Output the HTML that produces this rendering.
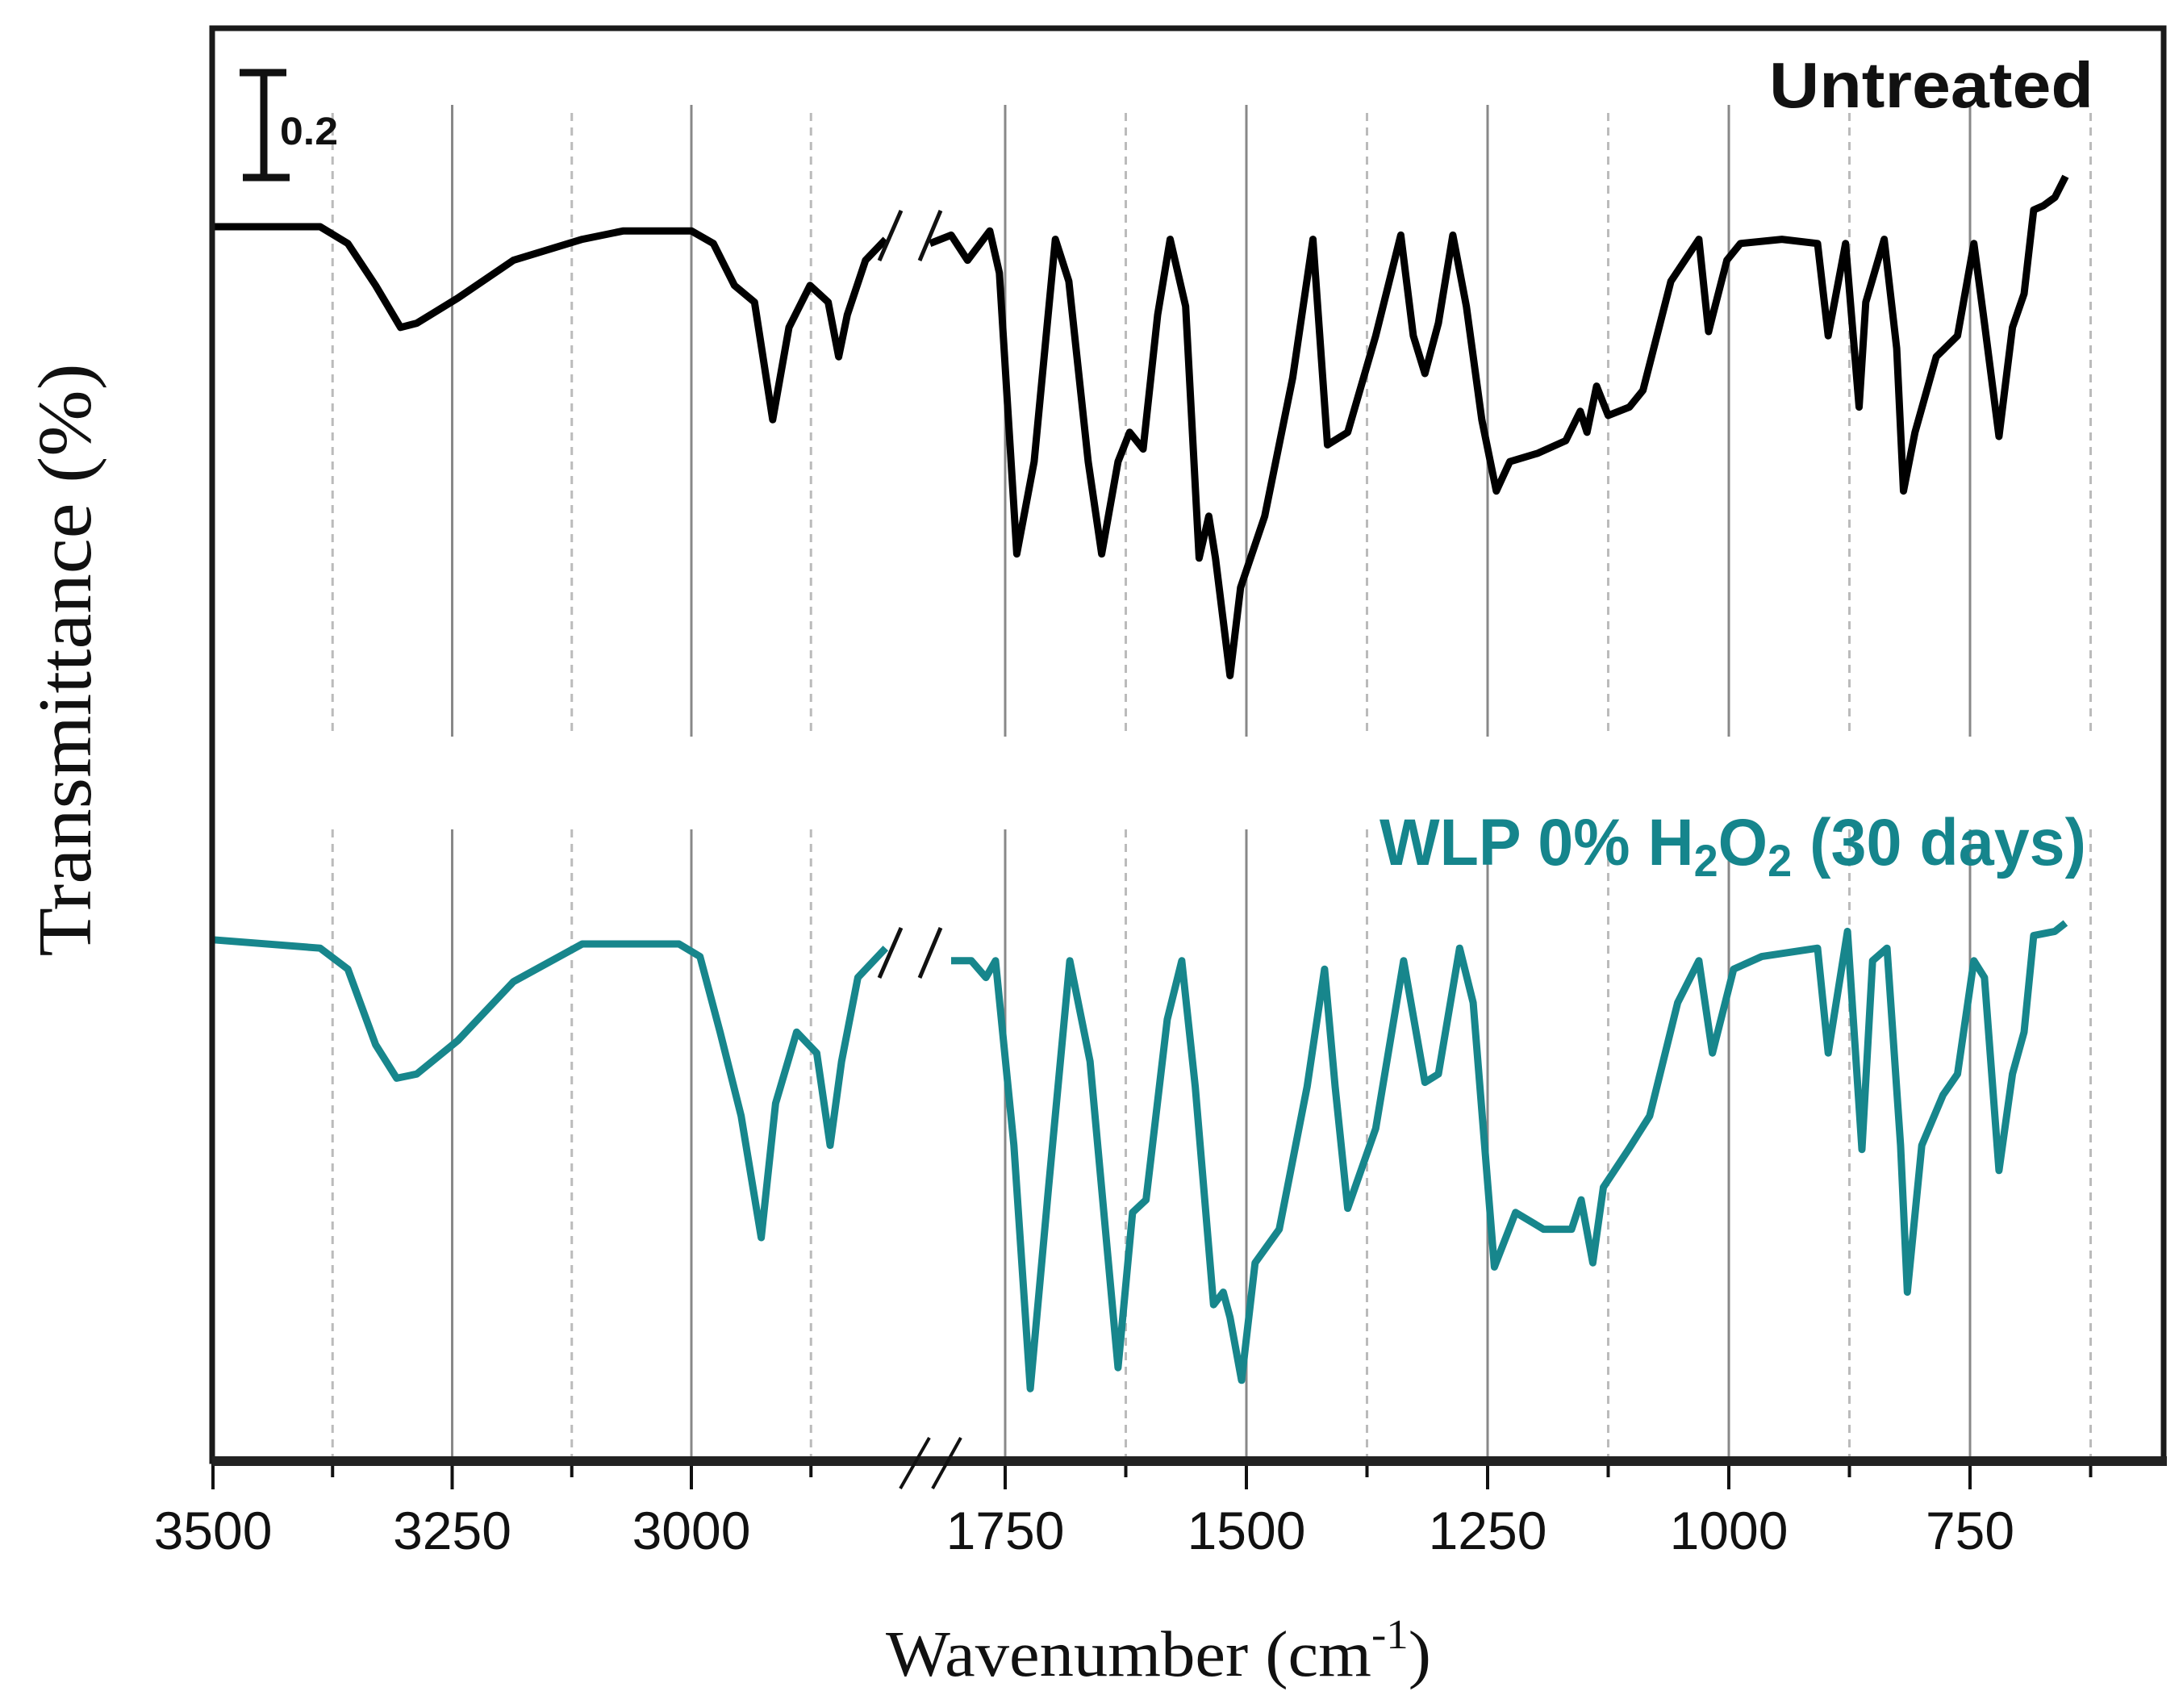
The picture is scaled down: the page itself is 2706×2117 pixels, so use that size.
<!DOCTYPE html>
<html><head><meta charset="utf-8">
<style>
html,body{margin:0;padding:0;background:#fff;}
svg{display:block;}
</style></head>
<body>
<svg id="chart" width="2706" height="2117" viewBox="0 0 2706 2117" xmlns="http://www.w3.org/2000/svg">
<rect x="0" y="0" width="2706" height="2117" fill="#fff"/>
<g id="grid"></g>
<g id="ticks"></g>
<g id="series"></g>
<rect x="263" y="35" width="2419" height="1776" fill="none" stroke="#1a1a1a" stroke-width="7"/>
<line x1="263" y1="1811" x2="2686" y2="1811" stroke="#222" stroke-width="12"/>
<g stroke="#111" stroke-width="4">
<line x1="1116" y1="1845" x2="1152" y2="1782"/><line x1="1156" y1="1845" x2="1191" y2="1782"/>
</g>
<g stroke="#111" stroke-width="9">
<line x1="327" y1="90" x2="327" y2="220"/><line x1="297" y1="90" x2="355" y2="90"/><line x1="301" y1="220" x2="359" y2="220"/>
</g>
<text x="347" y="179" font-family="Liberation Sans, sans-serif" font-size="48" font-weight="bold" fill="#111" textLength="72" lengthAdjust="spacingAndGlyphs">0.2</text>
<text x="2193" y="133" font-family="Liberation Sans, sans-serif" font-size="80" font-weight="bold" fill="#111" textLength="402" lengthAdjust="spacingAndGlyphs">Untreated</text>
<text x="1710" y="1072" font-family="Liberation Sans, sans-serif" font-size="82" font-weight="bold" fill="#15858c" textLength="876" lengthAdjust="spacingAndGlyphs">WLP 0% H<tspan font-size="56" dy="14">2</tspan><tspan dy="-14">O</tspan><tspan font-size="56" dy="14">2</tspan><tspan dy="-14"> (30 days)</tspan></text>
<text x="1098" y="2077" font-family="Liberation Serif, serif" font-size="80" fill="#111" textLength="676" lengthAdjust="spacingAndGlyphs">Wavenumber (cm<tspan font-size="52" dy="-34">-1</tspan><tspan dy="34">)</tspan></text>
<text transform="translate(112,818) rotate(-90)" text-anchor="middle" font-family="Liberation Serif, serif" font-size="94" fill="#111" textLength="735" lengthAdjust="spacingAndGlyphs">Transmittance (%)</text>
</svg>
<script>
// ---- data ----
const majorTicks = [3500, 3250, 3000, 1750, 1500, 1250, 1000, 750];
const minorTicks = [3375, 3125, 2875, 1625, 1375, 1125, 875, 625];
const tickLabels = ["3500", "3250", "3000", "1750", "1500", "1250", "1000", "750"];

const untreatedLeftWn = [3500,3388,3359,3330,3304,3287,3244,3186,3114,3071,3000,2977,2955,2934,2915,2898,2876,2857,2846,2837,2818,2797];
const untreatedLeftT  = [1.00,1.00,0.96,0.86,0.76,0.77,0.83,0.92,0.97,0.99,0.99,0.96,0.86,0.82,0.54,0.76,0.86,0.82,0.69,0.79,0.92,0.97];
const untreatedRightWn = [1828,1806,1789,1766,1756,1738,1720,1698,1684,1664,1650,1633,1621,1607,1592,1579,1563,1549,1539,1532,1517,1506,1481,1452,1431,1416,1395,1366,1340,1327,1315,1301,1286,1272,1256,1241,1227,1198,1169,1154,1147,1137,1125,1103,1089,1060,1031,1021,1002,988,945,908,897,879,865,858,839,826,819,807,785,763,746,735,720,706,694,684,674,662,651];
const untreatedRightT  = [0.96,0.98,0.92,0.99,0.89,0.22,0.44,0.97,0.87,0.44,0.22,0.44,0.51,0.47,0.79,0.97,0.81,0.21,0.31,0.21,-0.07,0.14,0.31,0.64,0.97,0.48,0.51,0.74,0.98,0.74,0.65,0.77,0.98,0.81,0.54,0.37,0.44,0.46,0.49,0.56,0.51,0.62,0.55,0.57,0.61,0.87,0.97,0.75,0.92,0.96,0.97,0.96,0.74,0.96,0.57,0.82,0.97,0.71,0.37,0.51,0.69,0.74,0.96,0.77,0.50,0.76,0.84,1.04,1.05,1.07,1.12];

const wlpLeftWn = [3500,3388,3359,3330,3308,3287,3244,3186,3114,3071,3013,2991,2970,2948,2927,2912,2890,2869,2855,2843,2826,2797];
const wlpLeftT  = [1.01,0.99,0.94,0.76,0.68,0.69,0.77,0.91,1.00,1.00,1.00,0.97,0.79,0.59,0.30,0.62,0.79,0.74,0.52,0.72,0.92,0.99];
const wlpRightWn = [1806,1785,1770,1760,1741,1724,1705,1683,1662,1633,1618,1604,1582,1567,1553,1534,1524,1517,1505,1491,1466,1437,1419,1408,1395,1366,1337,1315,1301,1279,1265,1243,1221,1192,1163,1153,1141,1130,1104,1082,1053,1031,1017,995,966,908,897,877,862,851,836,822,815,800,778,763,746,735,720,706,694,684,662,651];
const wlpRightT  = [0.96,0.96,0.92,0.96,0.52,-0.06,0.42,0.96,0.72,-0.01,0.36,0.39,0.82,0.96,0.66,0.14,0.17,0.11,-0.04,0.24,0.32,0.66,0.94,0.66,0.37,0.56,0.96,0.67,0.69,0.99,0.86,0.23,0.36,0.32,0.32,0.39,0.24,0.42,0.51,0.59,0.86,0.96,0.74,0.94,0.97,0.99,0.74,1.03,0.51,0.96,0.99,0.52,0.17,0.52,0.64,0.69,0.96,0.92,0.46,0.69,0.79,1.02,1.03,1.05];

// ---- axis functions ----
function xScale(wn){
  if (wn >= 2000) return 264 + (3500 - wn) * 1.186;
  return 1246 + (1750 - wn) * 1.196;
}
const upperBase = 281, lowerBase = 1170, tUnit = 520;
function yUpper(t){ return upperBase - (t - 1) * tUnit; }
function yLower(t){ return lowerBase - (t - 1) * tUnit; }

const NS = "http://www.w3.org/2000/svg";
const grid = document.getElementById('grid');
const ticks = document.getElementById('ticks');
const series = document.getElementById('series');

function mk(tag, attrs, parent){
  const e = document.createElementNS(NS, tag);
  for (const k in attrs) e.setAttribute(k, attrs[k]);
  parent.appendChild(e);
  return e;
}

majorTicks.forEach((wn, i) => {
  const x = xScale(wn);
  if (wn !== 3500) {
    const g1 = mk('line', {x1:x, y1:130, x2:x, y2:913, stroke:'#888', 'stroke-width':3}, grid);
    
    
    const g2 = mk('line', {x1:x, y1:1028, x2:x, y2:1808, stroke:'#888', 'stroke-width':3}, grid);
    
    
  }
  const t = mk('line', {x1:x, y1:1811, x2:x, y2:1846, stroke:'#111', 'stroke-width':4}, ticks);
  
  
  const lb = mk('text', {x:x, y:1920, 'text-anchor':'middle', 'font-family':'Liberation Sans, sans-serif', 'font-size':66, fill:'#111'}, ticks);
  lb.textContent = tickLabels[i];
  
  
});
minorTicks.forEach(wn => {
  const x = xScale(wn);
  const g1 = mk('line', {x1:x, y1:140, x2:x, y2:913, stroke:'#bbb', 'stroke-width':3, 'stroke-dasharray':'10 8'}, grid);
  
  
  const g2 = mk('line', {x1:x, y1:1028, x2:x, y2:1808, stroke:'#bbb', 'stroke-width':3, 'stroke-dasharray':'10 8'}, grid);
  
  
  const t = mk('line', {x1:x, y1:1811, x2:x, y2:1831, stroke:'#111', 'stroke-width':4}, ticks);
  
  
});

function drawLine(wns, ts, yf, color, name){
  const d = wns.map((w, i) => (i ? 'L' : 'M') + xScale(w).toFixed(1) + ' ' + yf(ts[i]).toFixed(1)).join(' ');
  const p = mk('path', {d:d, fill:'none', stroke:color, 'stroke-width':9, 'stroke-linejoin':'round'}, series);
  
  
}
drawLine(untreatedLeftWn, untreatedLeftT, yUpper, '#000', 'untreated-line-high');
drawLine(untreatedRightWn, untreatedRightT, yUpper, '#000', 'untreated-line-low');
drawLine(wlpLeftWn, wlpLeftT, yLower, '#17868c', 'wlp-line-high');
drawLine(wlpRightWn, wlpRightT, yLower, '#17868c', 'wlp-line-low');

// break marks on curves
[[upperBase, 'untreated'], [lowerBase, 'wlp']].forEach(([b, nm]) => {
  [[1090, 1117], [1140, 1166]].forEach(([xa, xb], j) => {
    const l = mk('line', {x1:xa, y1:b + 42, x2:xb, y2:b - 20, stroke:'#111', 'stroke-width':5}, series);
    
    
  });
});
</script>
</body></html>
